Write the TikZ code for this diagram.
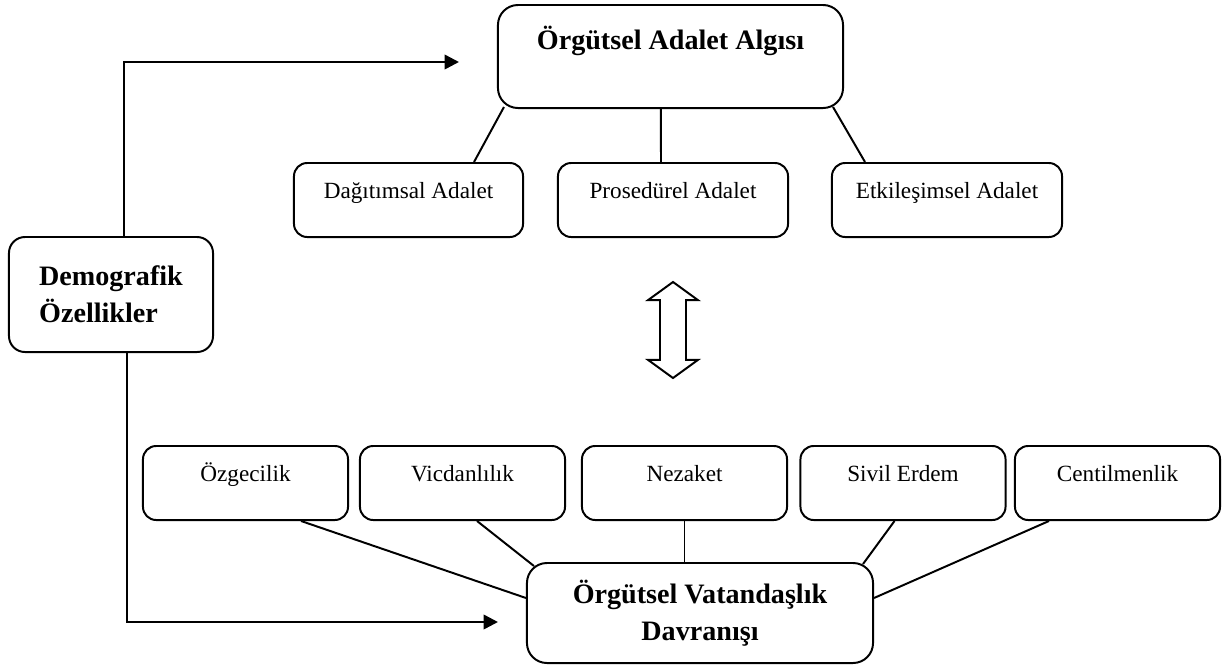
\documentclass[tikz,border=0pt]{standalone}
\usepackage{fontspec}
\setmainfont{Liberation Serif}
\usepackage{tikz}
\usetikzlibrary{shapes,shapes.arrows,arrows,positioning,calc,arrows.meta}

\begin{document}
\begin{tikzpicture}[
    x=0.025cm, y=-0.025cm,
    mainbox/.style={draw, line width=1.4pt, rounded corners=0.5cm, align=center, inner sep=0pt, font=\fontsize{20}{26}\selectfont\bfseries},
    subbox/.style={draw, line width=1.4pt, rounded corners=0.33cm, align=center, inner sep=0pt, minimum width=5.125cm, minimum height=1.85cm, text height=0.4cm, text depth=0.475cm, font=\fontsize{16.5}{19}\selectfont},
    link/.style={line width=1.4pt},
    arrow/.style={line width=1.8pt, -{Triangle[length=0.36cm,width=0.36cm]}}
]
\useasboundingbox (0,0) rectangle (1231,666);

% Adalet algisi - top
\node[mainbox, minimum width=8.625cm, minimum height=2.575cm, text height=0.5cm, text depth=0.85cm] (algi) at (670.5,56.5) {Örgütsel Adalet Algısı};

\node[subbox, minimum width=5.725cm] (dag) at (408.5,200) {Dağıtımsal Adalet};
\node[subbox, minimum width=5.75cm] (pros) at (673,200) {Prosedürel Adalet};
\node[subbox, minimum width=5.75cm] (etk) at (947,200) {Etkileşimsel Adalet};

\draw[link] ([xshift=0.175cm,yshift=0.05cm]algi.south west) -- ([xshift=4.525cm]dag.north west);
\draw[link] ([xshift=-0.24cm]algi.south) -- ([xshift=-0.3cm]pros.north);
\draw[link] ([xshift=-0.275cm,yshift=0.05cm]algi.south east) -- ([xshift=0.85cm]etk.north west);

% Demografik ozellikler - left
\node[mainbox, align=left, rounded corners=0.4cm, minimum width=5.1cm, minimum height=2.875cm] (demo) at (111,294.5) {Demografik\\Özellikler};

\coordinate (topend) at (459,62);
\coordinate (botend) at (498,622);
\draw[arrow] ([xshift=0.325cm]demo.north) |- (topend);
\draw[arrow] ([xshift=0.4cm]demo.south) |- (botend);

% Iliski - double arrow
\node[draw, double arrow, rotate=90, line width=1.4pt, inner xsep=0pt, inner ysep=0.3cm, minimum height=2.4cm, minimum width=1.25cm, double arrow head extend=0.3cm, double arrow tip angle=108] (iliski) at (673,330) {};

% Vatandaslik davranisi - bottom
\node[subbox] (ozg) at (245.5,483) {Özgecilik};
\node[subbox] (vicd) at (462.5,483) {Vicdanlılık};
\node[subbox] (nez) at (684.5,483) {Nezaket};
\node[subbox] (sivil) at (903,483) {Sivil Erdem};
\node[subbox] (cent) at (1117.5,483) {Centilmenlik};

\node[mainbox, minimum width=8.65cm, minimum height=2.5cm] (ovd) at (700,613) {Örgütsel Vatandaşlık\\Davranışı};

\draw[link] ([xshift=3.975cm]ozg.south west) -- ([yshift=0.375cm]ovd.west);
\draw[link] ([xshift=2.95cm]vicd.south west) -- ([xshift=0.2cm,yshift=-0.1cm]ovd.north west);
\draw[link] (nez.south) -- (nez.south |- ovd.north);
\draw[link] ([xshift=2.375cm]sivil.south west) -- ([xshift=-0.275cm,yshift=-0.05cm]ovd.north east);
\draw[link] ([xshift=0.875cm]cent.south west) -- ([yshift=0.375cm]ovd.east);

\end{tikzpicture}
\end{document}
